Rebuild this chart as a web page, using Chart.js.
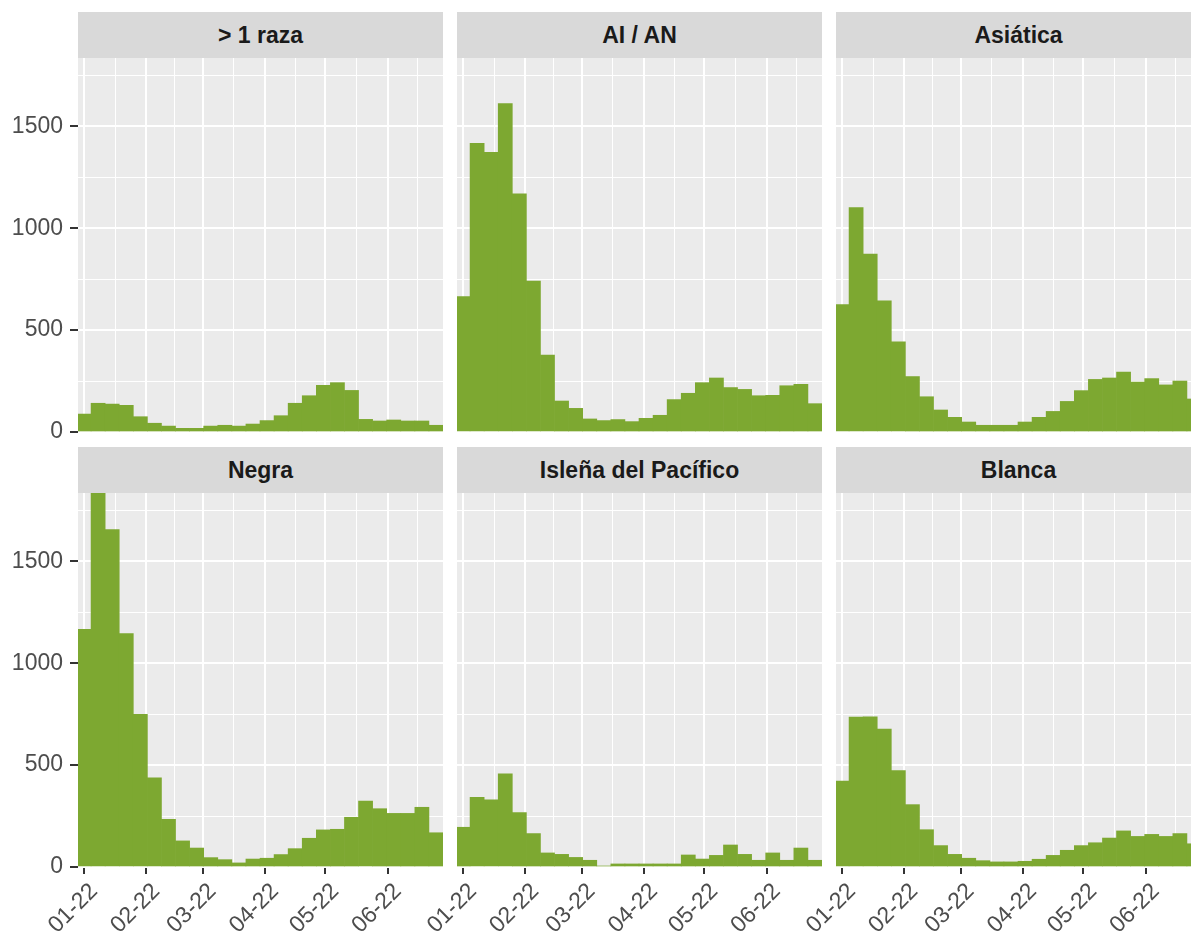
<!DOCTYPE html>
<html>
<head>
<meta charset="utf-8">
<script src="https://cdn.jsdelivr.net/npm/chart.js@4/dist/chart.umd.min.js"></script>
<style>
html,body{margin:0;padding:0;background:#fff;overflow:hidden;}
#wrap{position:relative;width:1191px;height:934px;overflow:hidden;background:#fff;}
.strip{position:absolute;background:#D9D9D9;color:#1A1A1A;font-family:"Liberation Sans",Arial,sans-serif;font-weight:bold;font-size:23px;text-align:center;white-space:nowrap;}
canvas{position:absolute;}
</style>
</head>
<body>
<div id="wrap"></div>
<script>
// ---------- data ----------
const panelTitles = ['> 1 raza', 'AI / AN', 'Asiática', 'Negra', 'Isleña del Pacífico', 'Blanca'];

// weekly bins (bin centres)
const weekCenters = ['2022-01-01','2022-01-08','2022-01-15','2022-01-22','2022-01-29',
  '2022-02-05','2022-02-12','2022-02-19','2022-02-26','2022-03-05','2022-03-12',
  '2022-03-19','2022-03-26','2022-04-02','2022-04-09','2022-04-16','2022-04-23',
  '2022-04-30','2022-05-07','2022-05-14','2022-05-21','2022-05-28','2022-06-04',
  '2022-06-11','2022-06-18','2022-06-25'];

const multiRace = [88,141,137,131,75,43,29,18,18,29,33,29,39,56,80,141,178,229,242,204,62,54,59,54,54,33];
const aian      = [664,1416,1372,1611,1168,741,378,152,116,64,56,61,51,67,82,159,190,242,265,218,209,178,180,227,234,139];
const asian     = [625,1101,873,643,442,272,173,108,72,49,33,33,33,49,72,101,150,203,258,265,294,245,262,231,250,162];
const black     = [1166,1835,1655,1145,749,438,234,128,93,46,36,20,39,43,61,90,141,182,185,244,324,286,263,263,293,168];
const pacific   = [195,342,329,457,267,164,69,62,47,33,5,15,15,15,15,15,59,39,57,108,62,33,69,33,93,33];
const white     = [422,736,737,677,473,306,183,105,62,43,31,25,25,28,38,57,82,105,119,142,177,150,160,150,164,114];

const seriesList = [multiRace, aian, asian, black, pacific, white];

const monthTicks = ['2022-01-01','2022-02-01','2022-03-01','2022-04-01','2022-05-01','2022-06-01'];
const monthTickLabels = ['01-22','02-22','03-22','04-22','05-22','06-22'];
const yTickValues = [0, 500, 1000, 1500];

// ---------- helpers ----------
const ORIGIN = Date.parse('2022-01-01');
const dayOf = d => (Date.parse(d) - ORIGIN) / 86400000;

const xMin = dayOf('2021-12-29');
const xMax = dayOf('2022-06-28') + 0.5;
const yMax = Math.max(...seriesList.map(s => Math.max(...s)));

const majorX = monthTicks.map(dayOf);
const prevMonth = dayOf('2021-12-01'), nextMonth = dayOf('2022-07-01');
const extX = [prevMonth, ...majorX, nextMonth];
const minorX = [];
for (let i = 0; i < extX.length - 1; i++) {
  const m = (extX[i] + extX[i+1]) / 2;
  if (m > xMin && m < xMax) minorX.push(m);
}
const majorY = yTickValues;
const minorY = [];
for (let i = 0; i < majorY.length; i++) {
  const m = majorY[i] + (majorY[1] - majorY[0]) / 2;
  if (m < yMax) minorY.push(m);
}
const allX = [...majorX, ...minorX].sort((a,b)=>a-b);
const allY = [...majorY, ...minorY].sort((a,b)=>a-b);
const isMajorX = v => majorX.some(m => Math.abs(m - v) < 1e-6);
const isMajorY = v => majorY.some(m => Math.abs(m - v) < 1e-6);

// ---------- layout ----------
const FONT = '"Liberation Sans", Arial, sans-serif';
const colLeft = [78, 457, 836];
const PANEL_W = 365;
const PANEL_H = 374;
const AXIS_W = 78;
const stripTop = [12, 447];
const STRIP_H = 46;
const panelTop = [58, 493];
const TOTAL_H = 934;

const panelBg = {
  id: 'panelBg',
  beforeDraw(chart) {
    const {ctx, chartArea: a} = chart;
    ctx.save();
    ctx.fillStyle = '#EBEBEB';
    ctx.fillRect(a.left, a.top, a.right - a.left, a.bottom - a.top);
    ctx.restore();
  }
};

const wrap = document.getElementById('wrap');

seriesList.forEach((vals, i) => {
  const col = i % 3, row = Math.floor(i / 3);
  const showY = col === 0, showX = row === 1;

  const strip = document.createElement('div');
  strip.className = 'strip';
  strip.style.left = colLeft[col] + 'px';
  strip.style.top = stripTop[row] + 'px';
  strip.style.width = PANEL_W + 'px';
  strip.style.height = STRIP_H + 'px';
  strip.style.lineHeight = STRIP_H + 'px';
  strip.textContent = panelTitles[i];
  wrap.appendChild(strip);

  const xAxisH = showX ? (TOTAL_H - panelTop[row] - PANEL_H) : 14;
  const cw = AXIS_W + PANEL_W, ch = PANEL_H + xAxisH;
  const canvas = document.createElement('canvas');
  canvas.width = cw; canvas.height = ch;
  canvas.style.width = cw + 'px'; canvas.style.height = ch + 'px';
  canvas.style.left = (colLeft[col] - AXIS_W) + 'px';
  canvas.style.top = panelTop[row] + 'px';
  wrap.appendChild(canvas);

  new Chart(canvas, {
    type: 'bar',
    data: {
      datasets: [{
        data: vals.map((v, k) => ({x: dayOf(weekCenters[k]), y: v})),
        backgroundColor: '#7DA831',
        borderWidth: 0,
        barPercentage: 1,
        categoryPercentage: 1
      }]
    },
    options: {
      responsive: false,
      animation: false,
      events: [],
      layout: {padding: 0},
      plugins: {legend: {display: false}, tooltip: {enabled: false}},
      scales: {
        x: {
          type: 'linear',
          offset: false,
          min: xMin, max: xMax,
          afterBuildTicks: s => { s.ticks = allX.map(v => ({value: v})); },
          afterFit: s => { s.height = xAxisH; s.paddingLeft = 0; s.paddingRight = 0; s.paddingTop = 0; s.paddingBottom = 0; },
          border: {display: false},
          grid: {
            offset: false,
            color: '#FFFFFF',
            lineWidth: c => (c.tick && isMajorX(c.tick.value)) ? 2 : 1,
            drawTicks: showX,
            tickLength: 7,
            tickWidth: 2,
            tickColor: c => (c.tick && isMajorX(c.tick.value)) ? '#333333' : 'rgba(0,0,0,0)'
          },
          ticks: {
            display: showX,
            autoSkip: false,
            maxRotation: 45, minRotation: 45,
            padding: 4,
            labelOffset: 10,
            color: '#4D4D4D',
            font: {family: FONT, size: 23},
            callback: v => { const k = majorX.findIndex(m => Math.abs(m - v) < 1e-6); return k >= 0 ? monthTickLabels[k] : ''; }
          }
        },
        y: {
          type: 'linear',
          min: 0, max: yMax,
          afterBuildTicks: s => { s.ticks = allY.map(v => ({value: v})); },
          afterFit: s => { s.width = AXIS_W; s.paddingTop = 0; s.paddingBottom = 0; s.paddingLeft = 0; s.paddingRight = 0; },
          border: {display: false},
          grid: {
            color: '#FFFFFF',
            lineWidth: c => (c.tick && isMajorY(c.tick.value)) ? 2 : 1,
            drawTicks: showY,
            tickLength: 8,
            tickWidth: 2,
            tickColor: c => (c.tick && isMajorY(c.tick.value)) ? '#333333' : 'rgba(0,0,0,0)'
          },
          ticks: {
            display: showY,
            autoSkip: false,
            padding: 7,
            color: '#4D4D4D',
            font: {family: FONT, size: 23},
            callback: v => isMajorY(v) ? String(v) : ''
          }
        }
      }
    },
    plugins: [panelBg]
  });
});
</script>
</body>
</html>
